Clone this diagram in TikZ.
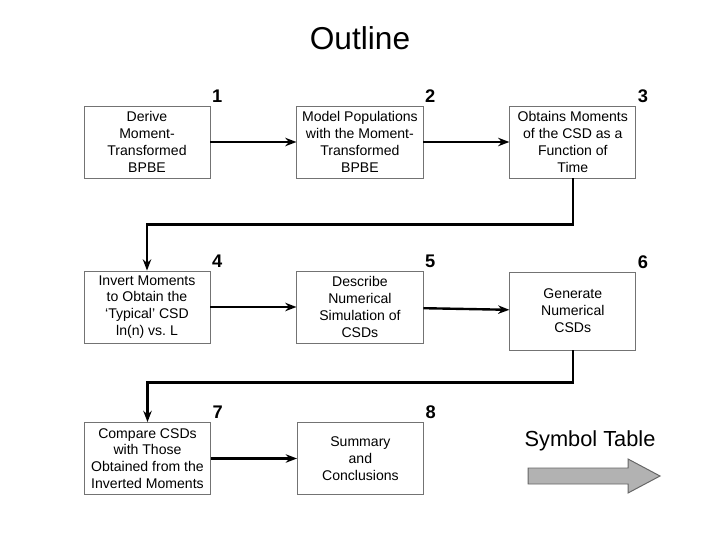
\documentclass[tikz,border=0pt]{standalone}
\usepackage{fontspec}
\setmainfont{Liberation Sans}
\usetikzlibrary{positioning,arrows.meta}

\begin{document}
\begin{tikzpicture}[
    x=0.025cm, y=0.025cm,
    node distance=2.15cm,
    >={Stealth[length=8pt,width=6pt]},
    % outline styles
    stepbox/.style={rectangle, draw=black!55, line width=0.6pt, minimum width=3.15cm, minimum height=1.8cm, align=center, inner sep=1pt, font=\fontsize{10}{12}\selectfont},
    num/.style={anchor=south west, inner sep=1pt, yshift=1pt, font=\fontsize{13}{15}\selectfont\bfseries},
    flow/.style={->, draw, line width=1.7pt},
    symarrow/.style={draw=black!60, fill=black!30, line width=0.7pt}
  ]
  \useasboundingbox (0,0) rectangle (720,540);

  % Title
  \node[font=\fontsize{22.5}{26}\selectfont] (title) at (360,502) {Outline};

  % Steps
  \node[stepbox] (b1) at (147,398) {Derive\\Moment-\\Transformed\\BPBE};
  \node[stepbox, right=of b1] (b2) {Model Populations\\with the Moment-\\Transformed\\BPBE};
  \node[stepbox, right=of b2] (b3) {Obtains Moments\\of the CSD as a\\Function of\\Time};
  \node[stepbox] (b4) at (147,233) {Invert Moments\\to Obtain the\\`Typical' CSD\\ln(n) vs.\ L};
  \node[stepbox, right=of b4] (b5) {Describe\\Numerical\\Simulation of\\CSDs};
  \node[stepbox, right=of b5, yshift=-0.1cm, minimum height=1.95cm] (b6) {Generate\\Numerical\\CSDs};
  \node[stepbox] (b7) at (147.5,81.5) {Compare CSDs\\with Those\\Obtained from the\\Inverted Moments};
  \node[stepbox, right=of b7] (b8) {Summary\\and\\Conclusions};

  % Step numbers
  \foreach \b/\n in {b1/1, b2/2, b3/3, b4/4, b5/5, b6/6, b7/7, b8/8}
    \node[num] (n\n) at (\b.north east) {\n};

  % Flow
  \draw[flow] (b1) -- (b2);
  \draw[flow] (b2) -- (b3);
  \draw[flow] (b3.south) -- ++(0,-1.15cm) -| (b4.north);
  \draw[flow] (b4) -- (b5);
  \draw[flow] (b5) -- (b6);
  \draw[flow] (b6.south) -- ++(0,-0.8cm) -| (b7.north);
  \draw[flow] (b7) -- (b8);

  % Symbol table
  \node[font=\fontsize{15.5}{18}\selectfont] (symtab) at (590,99) {Symbol Table};
  \coordinate (symtip) at (660,64);
  \draw[symarrow] (symtip) -- ++(-32,17) -- ++(0,-9) -- ++(-100,0) -- ++(0,-16) -- ++(100,0) -- ++(0,-9) -- cycle;
\end{tikzpicture}
\end{document}
